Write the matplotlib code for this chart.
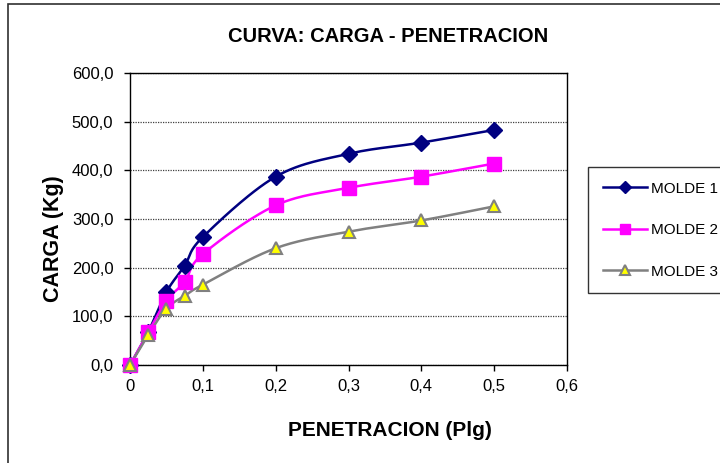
import numpy as np
import matplotlib
matplotlib.use("Agg")
import matplotlib.pyplot as plt
from matplotlib.patches import Rectangle

penetracion = [0, 0.025, 0.05, 0.075, 0.1, 0.2, 0.3, 0.4, 0.5]
molde1 = [0, 68, 150, 204, 263, 387, 434, 457, 483]
molde2 = [0, 67, 132, 171, 228, 328, 364, 387, 414]
molde3 = [0, 62, 116, 142, 165, 240, 274, 297, 326]
series_names = ["MOLDE 1", "MOLDE 2", "MOLDE 3"]
xticks = [0, 0.1, 0.2, 0.3, 0.4, 0.5, 0.6]
xtick_labels = ["0", "0,1", "0,2", "0,3", "0,4", "0,5", "0,6"]
yticks = [0, 100, 200, 300, 400, 500, 600]
ytick_labels = ["0,0", "100,0", "200,0", "300,0", "400,0", "500,0", "600,0"]

plt.rcParams['font.family'] = ['Liberation Sans', 'DejaVu Sans']


def smooth(xs, ys, n=30):
    # Catmull-Rom style Bezier smoothing (like Excel's smoothed line)
    x = np.asarray(xs, float)
    y = np.asarray(ys, float)
    sx = 437 / 0.6
    sy = 292 / 600
    P = np.column_stack([x * sx, y * sy])
    out = [P[0]]
    for i in range(len(P) - 1):
        p0 = P[i - 1] if i > 0 else P[i]
        p1 = P[i]
        p2 = P[i + 1]
        p3 = P[i + 2] if i + 2 < len(P) else P[i + 1]
        c1 = p1 + (p2 - p0) / 6
        c2 = p2 - (p3 - p1) / 6
        t = np.linspace(0, 1, n)[1:, None]
        b = ((1 - t) ** 3) * p1 + 3 * ((1 - t) ** 2) * t * c1 + 3 * (1 - t) * t ** 2 * c2 + t ** 3 * p2
        out.extend(b)
    out = np.array(out)
    return out[:, 0] / sx, out[:, 1] / sy


fig = plt.figure(figsize=(7.2, 4.63), dpi=100)
ax = fig.add_axes([130 / 720, 1 - 365 / 463, 437 / 720, 292 / 463])

styles = [
    dict(color="#000080", marker="D", mfc="#000080", mec="#000080", ms=8),
    dict(color="#FF00FF", marker="s", mfc="#FF00FF", mec="#FF00FF", ms=10),
    dict(color="#808080", marker="^", mfc="#FFFF00", mec="#808080", ms=9, mew=1.5),
]
handles = []
for ys, name, st in zip([molde1, molde2, molde3], series_names, styles):
    sxv, syv = smooth(penetracion, ys)
    ax.plot(sxv, syv, color=st["color"], lw=1.8, zorder=3, clip_on=False)
    ax.plot(penetracion, ys, ls="none", marker=st["marker"], mfc=st["mfc"],
            mec=st["mec"], ms=st["ms"], mew=st.get("mew", 1), zorder=4, clip_on=False)
    h, = ax.plot([], [], color=st["color"], lw=1.8, marker=st["marker"], mfc=st["mfc"],
                 mec=st["mec"], ms=st["ms"] * 0.75, mew=st.get("mew", 1))
    handles.append(h)

ax.set_xlim(0, 0.6)
ax.set_ylim(0, 600)
ax.set_xticks(xticks)
ax.set_xticklabels(xtick_labels, fontsize=12)
ax.set_yticks(yticks)
ax.set_yticklabels(ytick_labels, fontsize=12)
ax.tick_params(direction="out", length=4, width=1)
ax.tick_params(axis="x", pad=6)
ax.tick_params(axis="y", pad=8)
ax.yaxis.grid(True, linestyle=(0, (1, 1)), color="#404040", lw=0.9)
ax.set_axisbelow(True)
for s in ax.spines.values():
    s.set_color("black")
    s.set_linewidth(1)

fig.text(390 / 720, 1 - 430 / 463, "PENETRACION (Plg)", ha="center", va="center",
         fontsize=15, fontweight="bold")
fig.text(54 / 720, 1 - 239 / 463, "CARGA (Kg)", ha="center", va="center", rotation=90,
         fontsize=15.5, fontweight="bold")
fig.text(388 / 720, 1 - 37 / 463, "CURVA: CARGA - PENETRACION", ha="center", va="center",
         fontsize=14.5, fontweight="bold")

leg = fig.legend(handles, series_names, loc="upper left",
                 bbox_to_anchor=(588 / 720, 1 - 167 / 463), fontsize=11,
                 frameon=True, fancybox=False, edgecolor="black", handlelength=2.9,
                 labelspacing=1.8, borderpad=0.95, borderaxespad=0, handletextpad=0.25)
leg.get_frame().set_linewidth(1)
leg._legend_box.align = "left"

fig.patches.append(Rectangle((8 / 720, -0.05), 1.0, 1 - 4 / 463 + 0.05, transform=fig.transFigure,
                             fill=False, edgecolor="#303030", lw=1.2))

fig.savefig("out.png", dpi=100)
